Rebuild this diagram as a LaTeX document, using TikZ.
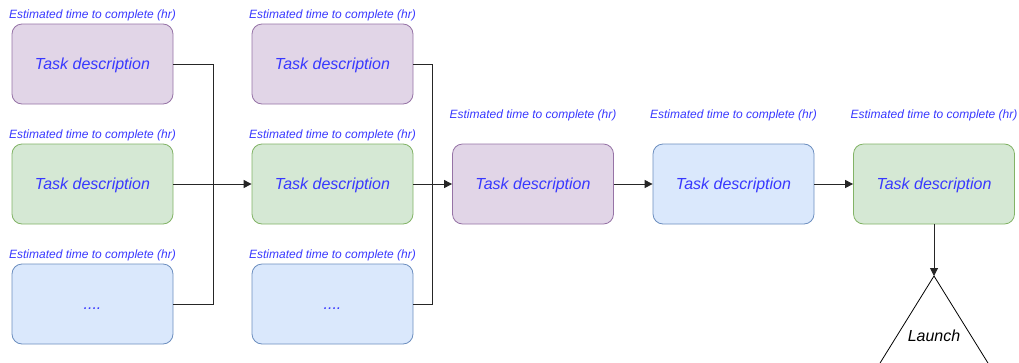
\documentclass[tikz,border=0pt]{standalone}
\usepackage{fontspec}
\setmainfont{Liberation Sans}
\usetikzlibrary{arrows.meta}
\definecolor{purfill}{HTML}{E1D5E7}\definecolor{purline}{HTML}{9673A6}
\definecolor{grnfill}{HTML}{D5E8D4}\definecolor{grnline}{HTML}{82B366}
\definecolor{blufill}{HTML}{DAE8FC}\definecolor{bluline}{HTML}{6C8EBF}
\definecolor{txtblue}{HTML}{3838FF}
\tikzset{
  task/.style={draw, line width=0.8pt, rounded corners=10pt, minimum width=161pt, minimum height=80pt,
    inner sep=0pt, text height=11.5pt, text depth=0pt, text=txtblue, font=\fontsize{16}{18}\selectfont\itshape},
  pur/.style={task, fill=purfill, draw=purline},
  grn/.style={task, fill=grnfill, draw=grnline},
  blu/.style={task, fill=blufill, draw=bluline},
  est/.style={text=txtblue, font=\fontsize{12}{14}\selectfont\itshape, inner sep=0pt, text height=8.6pt, text depth=0pt},
  conn/.style={draw=black!85, line width=1pt},
  arr/.style={conn, -{Triangle[length=8pt,width=8pt]}},
}
\begin{document}
\begin{tikzpicture}[x=1pt,y=-1pt]
\clip (0,0) rectangle (1019,362);
% column 1
\node[pur] (a1) at (92.5,64) {Task description};
\node[grn] (a2) at (92.5,184) {Task description};
\node[blu] (a3) at (92.5,304) {....};
% column 2
\node[pur] (b1) at (332.5,64) {Task description};
\node[grn] (b2) at (332.5,184) {Task description};
\node[blu] (b3) at (332.5,304) {....};
% main row
\node[pur] (c) at (533,184) {Task description};
\node[blu] (d) at (733.5,184) {Task description};
\node[grn] (e) at (934,184) {Task description};
% labels
\node[est] (la1) at (92.5,14.5) {Estimated time to complete (hr)};
\node[est] (la2) at (92.5,134.5) {Estimated time to complete (hr)};
\node[est] (la3) at (92.5,254.5) {Estimated time to complete (hr)};
\node[est] (lb1) at (332.5,14.5) {Estimated time to complete (hr)};
\node[est] (lb2) at (332.5,134.5) {Estimated time to complete (hr)};
\node[est] (lb3) at (332.5,254.5) {Estimated time to complete (hr)};
\node[est] (lc) at (533,114.5) {Estimated time to complete (hr)};
\node[est] (ld) at (733.5,114.5) {Estimated time to complete (hr)};
\node[est] (le) at (934,114.5) {Estimated time to complete (hr)};
% connectors
\draw[conn] (a1.east) -| (213,304) -- (a3.east);
\draw[arr] (a2.east) -- (b2.west);
\draw[conn] (b1.east) -| (432,304) -- (b3.east);
\draw[arr] (b2.east) -- (c.west);
\draw[arr] (c.east) -- (d.west);
\draw[arr] (d.east) -- (e.west);
% launch triangle
\coordinate (apex) at (934,276);
\draw[line width=0.8pt] (872,376) -- (apex) -- (996,376);
\node[font=\fontsize{16}{18}\selectfont\itshape, text=black, inner sep=0pt, text height=11.5pt, text depth=0pt] (launch) at (934,336) {Launch};
\draw[arr] (e.south) -- (apex);
\end{tikzpicture}
\end{document}
